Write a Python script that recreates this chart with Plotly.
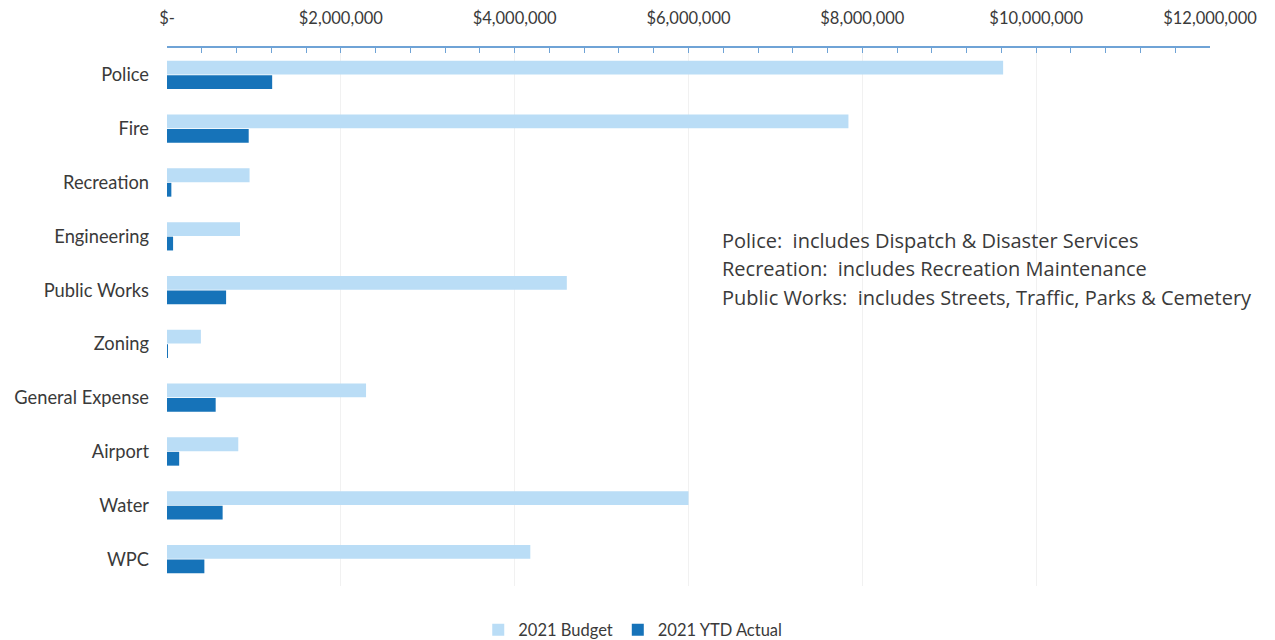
import plotly.graph_objects as go

categories = ["Police", "Fire", "Recreation", "Engineering", "Public Works",
              "Zoning", "General Expense", "Airport", "Water", "WPC"]
budget_2021 = [9620000, 7840000, 950000, 840000, 4600000,
               390000, 2290000, 820000, 6000000, 4180000]
ytd_actual_2021 = [1210000, 940000, 50000, 70000, 680000,
                   10000, 560000, 140000, 640000, 430000]
tick_values = [0, 2000000, 4000000, 6000000, 8000000, 10000000, 12000000]
tick_labels = ["$-", "$2,000,000", "$4,000,000", "$6,000,000",
               "$8,000,000", "$10,000,000", "$12,000,000"]
note_lines = ["Police:  includes Dispatch & Disaster Services",
              "Recreation:  includes Recreation Maintenance",
              "Public Works:  includes Streets, Traffic, Parks & Cemetery"]

FONT = "Lato, 'Open Sans', sans-serif"
TXT = "#3a3a3a"
PLOT_H = 538

fig = go.Figure()
fig.add_trace(go.Bar(y=categories, x=budget_2021, orientation="h",
                     name="2021 Budget", marker=dict(color="#BADDF6", line=dict(width=0))))
fig.add_trace(go.Bar(y=categories, x=ytd_actual_2021, orientation="h",
                     name="2021 YTD Actual", marker=dict(color="#1673B9", line=dict(width=0))))

note_offsets = [192, 220, 249]
annotations = []
for line, off in zip(note_lines, note_offsets):
    annotations.append(dict(x=0.530, y=1 - off / PLOT_H, xref="paper", yref="paper",
                            xanchor="left", yanchor="middle", align="left", showarrow=False,
                            text=line, font=dict(family="'Open Sans', sans-serif", size=20, color=TXT)))

fig.update_layout(
    width=1275, height=640,
    margin=dict(l=159, r=73, t=40, b=640 - 40 - PLOT_H),
    paper_bgcolor="white", plot_bgcolor="white",
    barmode="group", bargap=0.46, bargroupgap=0.05,
    font=dict(family=FONT, size=15, color=TXT),
    showlegend=True,
    legend=dict(orientation="h", xref="container", yref="container", x=0.49, xanchor="center",
                y=0.028, yanchor="middle",
                font=dict(size=16.5, color=TXT), itemwidth=30, traceorder="normal"),
    xaxis=dict(side="top", range=[0, 12000000], tickvals=tick_values, ticktext=tick_labels,
               showline=True, linecolor="#6FA3D6", linewidth=2,
               ticks="inside", ticklen=5, tickcolor="#6FA3D6", tickwidth=1,
               minor=dict(dtick=400000, ticks="inside", ticklen=5, tickcolor="#6FA3D6", showgrid=False),
               showgrid=True, gridcolor="#F1F1F1", gridwidth=1, zeroline=False, automargin=False,
               ticklabelstandoff=15, tickfont=dict(size=16.5, color=TXT), fixedrange=True),
    yaxis=dict(autorange="reversed", showline=False, showgrid=False, ticks="", automargin=False,
               ticklabelstandoff=17, tickfont=dict(size=18.3, color=TXT), fixedrange=True),
    annotations=annotations,
)

fig.write_html("out.html")
